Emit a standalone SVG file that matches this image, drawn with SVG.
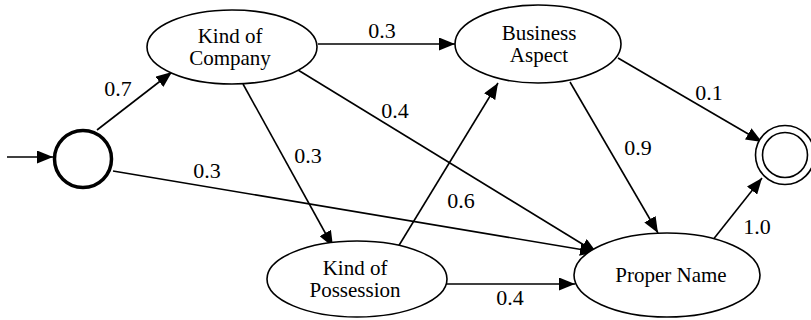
<svg xmlns="http://www.w3.org/2000/svg" width="811" height="320" viewBox="0 0 811 320">
<style>
.node{fill:#fff;stroke:#000;stroke-width:1.6}
.start{fill:#fff;stroke:#000;stroke-width:3.5}
.edge{fill:none;stroke:#000;stroke-width:1.6;marker-end:url(#arrow)}
.nl{font-family:'Liberation Serif','DejaVu Serif',serif;font-size:21px;fill:#000;text-anchor:middle}
.el{font-family:'Liberation Serif','DejaVu Serif',serif;font-size:22px;fill:#000;text-anchor:middle}
</style>
<defs>
<marker id="arrow" markerUnits="userSpaceOnUse" markerWidth="17" markerHeight="13" refX="16" refY="6.5" orient="auto">
<path d="M0,0 L16,6.5 L0,13 Z" fill="#000"/>
</marker>
</defs>
<g id="connectors">
<line class="edge" x1="7" y1="157" x2="53" y2="157"/>
<line class="edge" x1="97" y1="130" x2="172" y2="72"/>
<line class="edge" x1="318" y1="44" x2="455" y2="44"/>
<line class="edge" x1="298" y1="70" x2="597" y2="253"/>
<line class="edge" x1="243" y1="84" x2="333" y2="247"/>
<line class="edge" x1="113" y1="171" x2="596" y2="252"/>
<line class="edge" x1="398" y1="247" x2="498" y2="83"/>
<line class="edge" x1="445" y1="284" x2="575" y2="284"/>
<line class="edge" x1="570" y1="82" x2="658" y2="233"/>
<line class="edge" x1="618" y1="58" x2="762" y2="142"/>
<line class="edge" x1="712" y1="241" x2="762" y2="178"/>
<text class="el" x="118" y="96">0.7</text>
<text class="el" x="382" y="38">0.3</text>
<text class="el" x="395" y="118">0.4</text>
<text class="el" x="308" y="163">0.3</text>
<text class="el" x="207" y="178">0.3</text>
<text class="el" x="461" y="208">0.6</text>
<text class="el" x="510" y="305">0.4</text>
<text class="el" x="638" y="155">0.9</text>
<text class="el" x="709" y="100">0.1</text>
<text class="el" x="757" y="234">1.0</text>
</g>
<g id="start">
<circle class="start" cx="83" cy="159" r="28.5"/>
</g>
<g id="kind-of-company">
<ellipse class="node" cx="232" cy="47" rx="85" ry="37"/>
<text class="nl" x="230" y="43">Kind of</text>
<text class="nl" x="230" y="65">Company</text>
</g>
<g id="business-aspect">
<ellipse class="node" cx="538" cy="44" rx="83" ry="39"/>
<text class="nl" x="539" y="40">Business</text>
<text class="nl" x="539" y="62">Aspect</text>
</g>
<g id="kind-of-possession">
<ellipse class="node" cx="357" cy="279" rx="90" ry="38"/>
<text class="nl" x="355" y="275">Kind of</text>
<text class="nl" x="355" y="297">Possession</text>
</g>
<g id="proper-name">
<ellipse class="node" cx="667" cy="275" rx="93" ry="42"/>
<text class="nl" x="671" y="282">Proper Name</text>
</g>
<g id="final">
<circle class="node" cx="785" cy="155" r="29.5"/>
<circle class="node" cx="785" cy="155" r="22.5"/>
</g>
</svg>
